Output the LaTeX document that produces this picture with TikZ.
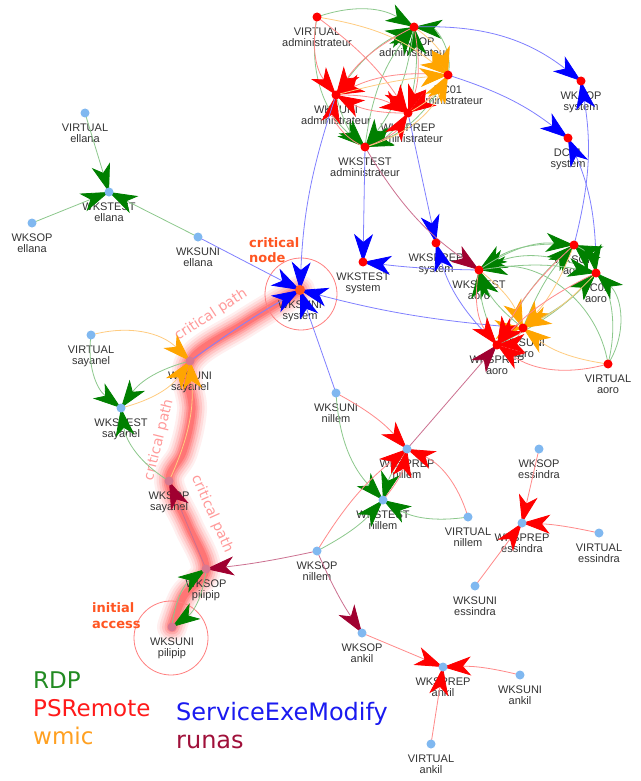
\documentclass[tikz,border=0pt]{standalone}
\usepackage{fontspec}
\setmainfont{Liberation Sans}
\newfontfamily\dejavu{DejaVu Sans}
\usetikzlibrary{arrows.meta}
\pgfdeclarelayer{glow}\pgfdeclarelayer{labs}\pgfdeclarelayer{edges}
\pgfsetlayers{glow,labs,edges,main}
\definecolor{rdpA}{HTML}{008000}\definecolor{rdpL}{HTML}{8CC88C}
\definecolor{psrA}{HTML}{FF0000}\definecolor{psrL}{HTML}{FF8A8A}
\definecolor{wmicA}{HTML}{FFA500}\definecolor{wmicL}{HTML}{FFCC80}
\definecolor{semA}{HTML}{0000FF}\definecolor{semL}{HTML}{8080FF}
\definecolor{runA}{HTML}{A00030}\definecolor{runL}{HTML}{CC7090}
\definecolor{nodered}{HTML}{FF0000}\definecolor{nodeblue}{HTML}{80B8F0}
\definecolor{nodepink}{HTML}{D87890}\definecolor{labgray}{HTML}{333333}
\definecolor{crit}{HTML}{FF5522}\definecolor{cpath}{HTML}{FF9A9A}
\definecolor{ring}{HTML}{FF8080}
\definecolor{lgRDP}{HTML}{228B22}\definecolor{lgPSR}{HTML}{FF1A1A}
\definecolor{lgWMIC}{HTML}{FFA020}\definecolor{lgSEM}{HTML}{1A1AF0}
\definecolor{lgRUN}{HTML}{A0103A}
\tikzset{
  arrowtip/.style={-{Stealth[length=28pt,width=19pt,inset=8pt,color=#1]}},
  rdp/.style={draw=rdpL,line width=0.8pt,arrowtip=rdpA},
  psr/.style={draw=psrL,line width=0.8pt,arrowtip=psrA},
  wmic/.style={draw=wmicL,line width=0.8pt,arrowtip=wmicA},
  sem/.style={draw=semL,line width=0.8pt,arrowtip=semA},
  runas/.style={draw=runL,line width=0.8pt,arrowtip=runA},
  rn/.style={circle,fill=nodered,minimum size=9pt,inner sep=0pt},
  bn/.style={circle,fill=nodeblue,minimum size=9pt,inner sep=0pt},
  pn/.style={circle,fill=nodepink,minimum size=9pt,inner sep=0pt},
  on/.style={circle,fill=crit,minimum size=10pt,inner sep=0pt},
  lab/.style={anchor=north,align=center,inner sep=0pt,text=labgray,font=\fontsize{11}{11}\selectfont},
  legend/.style={anchor=base west,inner sep=0pt,font=\dejavu\fontsize{23}{23}\selectfont},
  critlab/.style={anchor=base west,inner sep=0pt,text=crit,font=\dejavu\bfseries\fontsize{13}{13}\selectfont},
  cplab/.style={inner sep=0pt,text=cpath,font=\dejavu\fontsize{14}{14}\selectfont},
}
\newcommand\gn[5]{\node[#1] (#2) at (#3) {};
  \begin{pgfonlayer}{labs}\node[lab] (#2-l) at ([yshift=-10.8pt]#2.center) {#4\\#5};\end{pgfonlayer}}
\newcommand\E[4][]{\draw[#2] (#3.center) to[#1] (#4.center);}
\begin{document}
\begin{tikzpicture}[x=1pt,y=-1pt]
\useasboundingbox (0,0) rectangle (640,781);
\begin{pgfonlayer}{glow}
\fill[white] (0,0) rectangle (640,781);
\foreach \w/\o in {30/0.07,25/0.09,20/0.12,15/0.16,11/0.2,7/0.25}{
  \draw[red!85,line width=\w pt,opacity=\o,line cap=round,line join=round]
    plot[smooth,tension=0.6] coordinates {(300,290) (245,323) (190,361) (192,410) (183,452) (169,481) (188,525) (206,569) (184,596) (172,627)};
}
\end{pgfonlayer}
% administrateur
\gn{rn}{vad}{317,17}{VIRTUAL}{administrateur}
\gn{rn}{sopad}{414,27}{WKSOP}{administrateur}
\gn{rn}{dcad}{448,75}{DC01}{administrateur}
\gn{rn}{uniad}{336,95}{WKSUNI}{administrateur}
\gn{rn}{prepad}{408,113}{WKSPREP}{administrateur}
\gn{rn}{testad}{365,147}{WKSTEST}{administrateur}
% system
\gn{rn}{sopsys}{581,81}{WKSOP}{system}
\gn{rn}{dcsys}{568,138}{DC01}{system}
\gn{rn}{testsys}{363,262}{WKSTEST}{system}
\gn{rn}{prepsys}{436,243}{WKSPREP}{system}
\gn{on}{unisys}{300,290}{WKSUNI}{system}
% aoro
\gn{rn}{testao}{479,270}{WKSTEST}{aoro}
\gn{rn}{sopao}{574,245}{WKSOP}{aoro}
\gn{rn}{dcao}{596,273}{DC01}{aoro}
\gn{rn}{uniao}{523,328}{WKSUNI}{aoro}
\gn{rn}{prepao}{497,345}{WKSPREP}{aoro}
\gn{rn}{vao}{608,364}{VIRTUAL}{aoro}
% ellana
\gn{bn}{vel}{85,113}{VIRTUAL}{ellana}
\gn{bn}{testel}{109,192}{WKSTEST}{ellana}
\gn{bn}{sopel}{32,223}{WKSOP}{ellana}
\gn{bn}{uniel}{198,237}{WKSUNI}{ellana}
% sayanel
\gn{bn}{vsa}{91,335}{VIRTUAL}{sayanel}
\gn{pn}{unisa}{190,361}{WKSUNI}{sayanel}
\gn{bn}{testsa}{121,408}{WKSTEST}{sayanel}
\gn{pn}{sopsa}{169,481}{WKSOP}{sayanel}
% pilipip
\gn{pn}{soppi}{206,569}{WKSOP}{pilipip}
\gn{pn}{unipi}{172,627}{WKSUNI}{pilipip}
% nillem
\gn{bn}{uninil}{336,393}{WKSUNI}{nillem}
\gn{bn}{prepnil}{407,449}{WKSPREP}{nillem}
\gn{bn}{testnil}{383,500}{WKSTEST}{nillem}
\gn{bn}{vnil}{468,517}{VIRTUAL}{nillem}
\gn{bn}{sopnil}{317,551}{WKSOP}{nillem}
% essindra
\gn{bn}{sopes}{539,449}{WKSOP}{essindra}
\gn{bn}{prepes}{522,523}{WKSPREP}{essindra}
\gn{bn}{vess}{599,533}{VIRTUAL}{essindra}
\gn{bn}{unies}{475,586}{WKSUNI}{essindra}
% ankil
\gn{bn}{sopan}{362,633}{WKSOP}{ankil}
\gn{bn}{prepan}{443,667}{WKSPREP}{ankil}
\gn{bn}{unian}{520,675}{WKSUNI}{ankil}
\gn{bn}{van}{431,744}{VIRTUAL}{ankil}
% rings and annotations
\begin{pgfonlayer}{labs}
\node[draw=ring,circle,minimum size=72pt,inner sep=0pt,line width=0.8pt] (ringsys) at (301,294) {};
\node[draw=ring,circle,minimum size=74pt,inner sep=0pt,line width=0.8pt] (ringpi) at (171,638) {};
\node[critlab] (crit1) at (249,247) {critical};
\node[critlab] (crit2) at (249,262) {node};
\node[critlab] (init1) at (92,612) {initial};
\node[critlab] (init2) at (92,628) {access};
\node[cplab,rotate=33] (cp1) at (211,315) {critical path};
\node[cplab,rotate=76] (cp2) at (159,440) {critical path};
\node[cplab,rotate=-66] (cp3) at (212,514) {critical path};
\node[legend,text=lgRDP] (lg1) at (33,688) {RDP};
\node[legend,text=lgPSR] (lg2) at (33,716) {PSRemote};
\node[legend,text=lgWMIC] (lg3) at (33,744) {wmic};
\node[legend,text=lgSEM,font=\dejavu\fontsize{24}{24}\selectfont] (lg4) at (176,720) {ServiceExeModify};
\node[legend,text=lgRUN,font=\dejavu\fontsize{24}{24}\selectfont] (lg5) at (176,748) {runas};
\end{pgfonlayer}
\begin{pgfonlayer}{edges}
% administrateur cluster
\E[bend left=25]{rdp}{vad}{sopad}
\E[bend left=15]{rdp}{uniad}{sopad}
\E[bend left=15]{rdp}{testad}{sopad}
\E[bend right=10]{rdp}{prepad}{sopad}
\E[bend right=50]{rdp}{dcad}{sopad}
\E[bend right=30]{rdp}{vad}{testad}
\E[bend right=15]{rdp}{uniad}{testad}
\E[bend left=15]{rdp}{sopad}{testad}
\E[bend left=15]{rdp}{prepad}{testad}
\E[bend left=20]{rdp}{dcad}{testad}
\E[bend right=25]{psr}{vad}{uniad}
\E[bend right=15]{psr}{sopad}{uniad}
\E[bend right=15]{psr}{dcad}{uniad}
\E[bend left=15]{psr}{prepad}{uniad}
\E[bend left=40]{psr}{testad}{uniad}
\E[bend left=10]{psr}{vad}{prepad}
\E[bend left=15]{psr}{sopad}{prepad}
\E[bend left=10]{psr}{dcad}{prepad}
\E[bend left=15]{psr}{uniad}{prepad}
\E[bend right=20]{psr}{testad}{prepad}
\E[bend left=15]{wmic}{vad}{dcad}
\E[bend left=20]{wmic}{sopad}{dcad}
\E[bend left=5]{wmic}{uniad}{dcad}
\E[bend right=15]{wmic}{prepad}{dcad}
\E[bend right=25]{wmic}{testad}{dcad}
% to system
\E[bend right=8]{sem}{uniad}{unisys}
\E{sem}{testad}{testsys}
\E{sem}{prepad}{prepsys}
\E[bend left=20]{sem}{sopad}{sopsys}
\E[bend left=10]{sem}{dcad}{dcsys}
\E[bend right=12]{sem}{sopao}{sopsys}
\E[bend right=12]{sem}{dcao}{dcsys}
\E[bend left=3]{sem}{testao}{testsys}
\E[bend left=15]{sem}{prepao}{prepsys}
\E[bend left=5]{sem}{uniao}{unisys}
\E{sem}{uniel}{unisys}
\E[bend left=3]{sem}{unisa}{unisys}
\E{sem}{uninil}{unisys}
\E[bend right=12]{runas}{testad}{testao}
% aoro cluster
\E[bend right=20]{rdp}{sopao}{testao}
\E[bend right=25]{rdp}{dcao}{testao}
\E[bend left=15]{rdp}{uniao}{testao}
\E[bend left=10]{rdp}{prepao}{testao}
\E[bend right=45]{rdp}{vao}{testao}
\E[bend left=20]{rdp}{testao}{sopao}
\E[bend right=30]{rdp}{dcao}{sopao}
\E[bend left=10]{rdp}{uniao}{sopao}
\E[bend left=10]{rdp}{prepao}{sopao}
\E[bend right=30]{rdp}{vao}{sopao}
\E[bend left=10]{rdp}{testao}{dcao}
\E[bend left=30]{rdp}{sopao}{dcao}
\E[bend right=10]{rdp}{uniao}{dcao}
\E[bend right=10]{rdp}{prepao}{dcao}
\E[bend right=40]{rdp}{vao}{dcao}
\E[bend left=15]{wmic}{testao}{uniao}
\E[bend left=10]{wmic}{sopao}{uniao}
\E[bend left=10]{wmic}{dcao}{uniao}
\E[bend left=30]{wmic}{prepao}{uniao}
\E[bend left=15]{wmic}{vao}{uniao}
\E[bend right=25]{psr}{testao}{prepao}
\E[bend right=10]{psr}{sopao}{prepao}
\E[bend right=10]{psr}{dcao}{prepao}
\E[bend left=30]{psr}{uniao}{prepao}
\E[bend left=25]{psr}{vao}{prepao}
% ellana
\E{rdp}{vel}{testel}
\E{rdp}{sopel}{testel}
\E{rdp}{uniel}{testel}
% sayanel
\E[bend left=30]{wmic}{vsa}{unisa}
\E[bend right=30]{rdp}{vsa}{testsa}
\E[bend right=20]{rdp}{unisa}{testsa}
\E[bend right=20]{wmic}{testsa}{unisa}
\E[bend left=25]{rdp}{sopsa}{testsa}
\E[bend right=15]{wmic}{sopsa}{unisa}
% pilipip
\E{runas}{soppi}{sopsa}
\E[bend left=3]{runas}{sopnil}{soppi}
\E[bend left=25]{rdp}{unipi}{soppi}
\E[bend left=25]{rdp}{soppi}{unipi}
% nillem
\E[bend left=10]{psr}{uninil}{prepnil}
\E[bend right=20]{rdp}{uninil}{testnil}
\E[bend right=10]{rdp}{prepnil}{testnil}
\E[bend right=15]{psr}{testnil}{prepnil}
\E[bend left=10]{psr}{sopnil}{prepnil}
\E[bend right=25]{psr}{vnil}{prepnil}
\E[bend left=20]{rdp}{vnil}{testnil}
\E[bend right=10]{rdp}{sopnil}{testnil}
\E{runas}{prepnil}{prepao}
\E[bend right=5]{runas}{sopnil}{sopan}
% essindra
\E{psr}{sopes}{prepes}
\E[bend right=5]{psr}{vess}{prepes}
\E{psr}{unies}{prepes}
% ankil
\E{psr}{sopan}{prepan}
\E[bend right=8]{psr}{unian}{prepan}
\E{psr}{van}{prepan}
\end{pgfonlayer}
\end{tikzpicture}
\end{document}
